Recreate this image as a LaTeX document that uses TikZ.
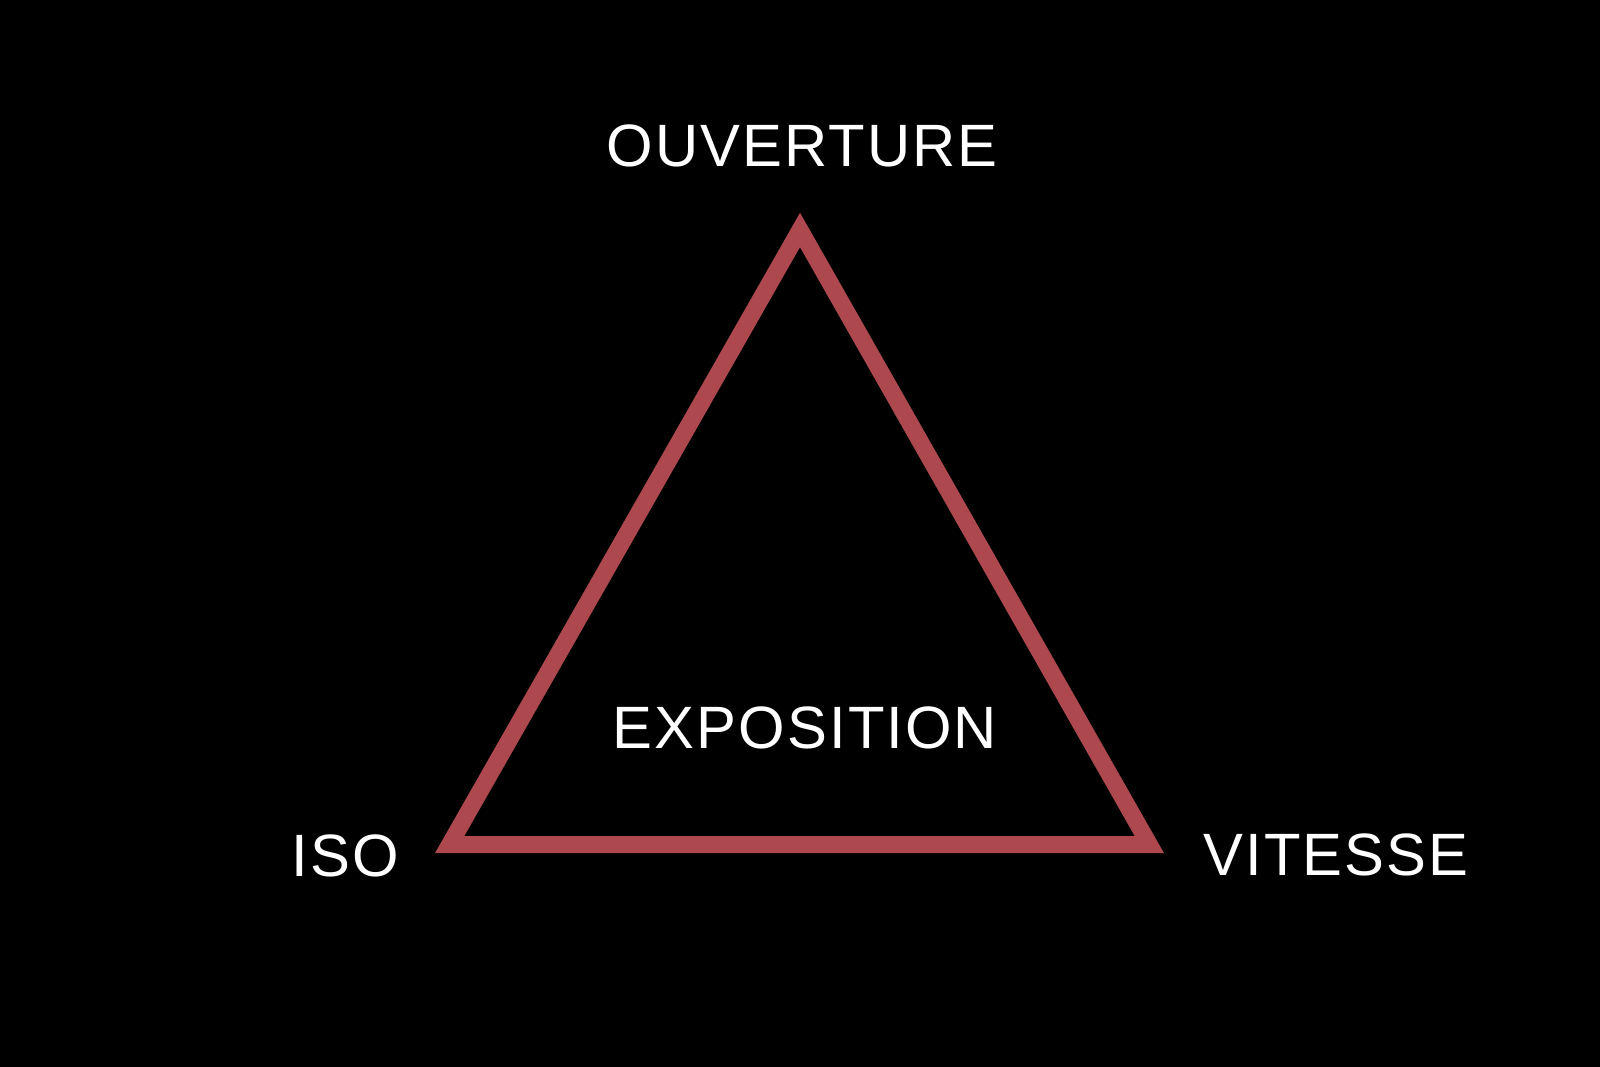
\documentclass[tikz,border=0pt]{standalone}
\usepackage{fontspec}
\setmainfont{Liberation Sans}
\newfontfamily\lblfont[LetterSpace=3.5]{Liberation Sans}
\definecolor{tri}{RGB}{172,72,78}
\begin{document}
\begin{tikzpicture}[x=0.01cm,y=-0.01cm,
  lbl/.style={text=white,font=\lblfont\fontsize{17pt}{20pt}\selectfont,inner sep=0pt,anchor=base},
  tribar/.style={draw=tri,line width=0.17cm,line join=miter}]
\fill[black] (0,0) rectangle (1600,1067);
\useasboundingbox (0,0) rectangle (1600,1067);
\coordinate (apex) at (800,230);
\coordinate (bl) at (449.7,844.5);
\coordinate (br) at (1149.3,844.5);
\draw[tribar] (apex) -- (bl) -- (br) -- cycle;
\node[lbl] (ouv) at (802,167) {OUVERTURE};
\node[lbl] (expo) at (805,748) {EXPOSITION};
\node[lbl] (iso) at (345,876) {ISO};
\node[lbl] (vit) at (1336,875) {VITESSE};
\end{tikzpicture}
\end{document}
